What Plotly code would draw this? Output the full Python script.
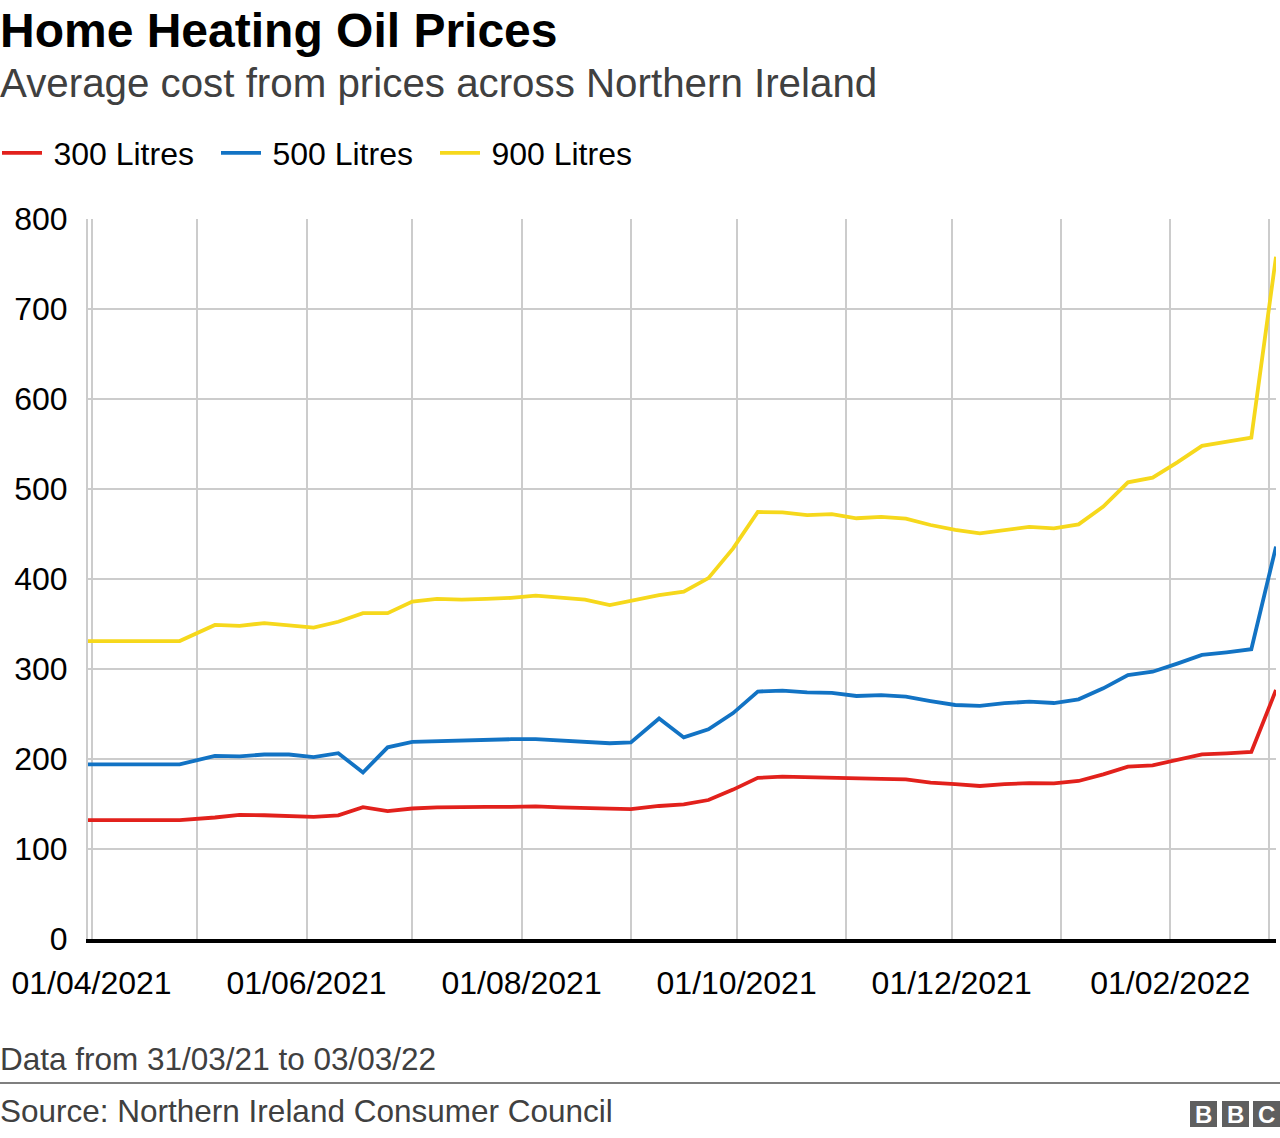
import plotly.graph_objects as go

# ---- data ----
dates = [
    "2021-03-31", "2021-04-26", "2021-05-06", "2021-05-13", "2021-05-20", "2021-05-27",
    "2021-06-03", "2021-06-10", "2021-06-17", "2021-06-24", "2021-07-01", "2021-07-08",
    "2021-07-15", "2021-07-22", "2021-07-29", "2021-08-05", "2021-08-12", "2021-08-19",
    "2021-08-26", "2021-09-01", "2021-09-09", "2021-09-16", "2021-09-23", "2021-09-30",
    "2021-10-07", "2021-10-14", "2021-10-21", "2021-10-28", "2021-11-04", "2021-11-11",
    "2021-11-18", "2021-11-25", "2021-12-02", "2021-12-09", "2021-12-16", "2021-12-23",
    "2021-12-30", "2022-01-06", "2022-01-13", "2022-01-20", "2022-01-27", "2022-02-03",
    "2022-02-10", "2022-02-17", "2022-02-24", "2022-03-03",
]
litres_300 = [
    132, 132, 135, 137.8, 137.5, 137, 135.6, 137.4, 146.5, 142, 145, 146.3,
    146, 146.7, 146.7, 147.4, 146.3, 145.2, 144.8, 144.3, 147.8, 149.6, 154.4, 166,
    179, 180.4, 179.6, 179, 177.8, 178, 177.4, 173.7, 172, 170, 172, 173.3,
    173, 175.6, 183, 191.5, 193, 199, 205.2, 206.3, 207.8, 276.7,
]
litres_500 = [
    194, 194, 203.5, 203, 205, 205, 202, 206.5, 185, 213, 219, 220,
    220, 221, 222, 222, 220.5, 219.3, 217.5, 218.5, 245, 224, 233, 251,
    275, 276, 274, 273.5, 270, 271, 269.3, 264.4, 260, 259, 262, 263.7,
    262.2, 266.3, 278.5, 293.3, 297, 306, 315.6, 318.5, 322, 436,
]
litres_900 = [
    331, 331, 349, 348, 351, 349, 346, 352.5, 362, 362, 375, 378,
    377, 378, 379, 381.5, 379.5, 377, 371, 375.5, 382, 386, 401, 434,
    474.5, 474, 471, 472, 467.5, 469, 467, 460, 454.5, 450.7, 454.5, 458,
    456.3, 460.7, 480.4, 507.4, 512.6, 529.6, 548, 552.6, 557, 758,
]
series_names = ["300 Litres", "500 Litres", "900 Litres"]
series_values = [litres_300, litres_500, litres_900]
series_colors = ["#e2211c", "#1273c4", "#f6d81c"]

y_ticks = [0, 100, 200, 300, 400, 500, 600, 700, 800]
x_tick_dates = [
    "2021-04-01", "2021-05-01", "2021-06-01", "2021-07-01", "2021-08-01", "2021-09-01",
    "2021-10-01", "2021-11-01", "2021-12-01", "2022-01-01", "2022-02-01", "2022-03-01",
]
x_tick_labels = [
    "01/04/2021", "", "01/06/2021", "", "01/08/2021", "",
    "01/10/2021", "", "01/12/2021", "", "01/02/2022", "",
]

title_text = "Home Heating Oil Prices"
subtitle_text = "Average cost from prices across Northern Ireland"
note_text = "Data from 31/03/21 to 03/03/22"
source_text = "Source: Northern Ireland Consumer Council"

# ---- layout geometry (pixels) ----
W, H = 1280, 1138
L, R, T, B = 88, 4, 219, 199
PW, PH = W - L - R, H - T - B


def px(xpix):
    return (xpix - L) / PW


def py(ypix):
    return (H - B - ypix) / PH


FONT = "Liberation Sans, Arial, sans-serif"
XS = -2  # annotation horizontal correction

fig = go.Figure()
for name, vals, col in zip(series_names, series_values, series_colors):
    fig.add_trace(go.Scatter(
        x=dates, y=vals, name="\u2009" + name, mode="lines",
        line=dict(color=col, width=3.8),
        hoverinfo="skip",
    ))

annotations = [
    dict(text="<b>%s</b>" % title_text, x=px(0), y=py(30), xref="paper", yref="paper",
         xanchor="left", yanchor="middle", showarrow=False, xshift=XS,
         font=dict(family=FONT, size=48, color="#000000")),
    dict(text=subtitle_text, x=px(0), y=py(83), xref="paper", yref="paper",
         xanchor="left", yanchor="middle", showarrow=False, xshift=XS,
         font=dict(family=FONT, size=40.3, color="#404040")),
    dict(text=note_text, x=px(0), y=py(1059), xref="paper", yref="paper",
         xanchor="left", yanchor="middle", showarrow=False, xshift=XS,
         font=dict(family=FONT, size=31.5, color="#404040")),
    dict(text=source_text, x=px(0), y=py(1111), xref="paper", yref="paper",
         xanchor="left", yanchor="middle", showarrow=False, xshift=XS,
         font=dict(family=FONT, size=31.5, color="#404040")),
]

shapes = [
    dict(type="line", xref="paper", yref="paper", x0=px(0), x1=px(1280),
         y0=py(1083), y1=py(1083), line=dict(color="#7f7f7f", width=2)),
]

# BBC logo blocks
logo_boxes = [(1190, 1217, "B"), (1222, 1249, "B"), (1253, 1280, "C")]
for x0, x1, letter in logo_boxes:
    shapes.append(dict(type="rect", xref="paper", yref="paper",
                       x0=px(x0), x1=px(x1), y0=py(1127), y1=py(1101),
                       fillcolor="#5f5f5f", line=dict(width=0)))
    annotations.append(dict(text="<b>%s</b>" % letter, x=px((x0 + x1) / 2), y=py(1114),
                            xref="paper", yref="paper", xanchor="center", yanchor="middle",
                            showarrow=False,
                            font=dict(family=FONT, size=24, color="#ffffff")))

fig.update_layout(
    width=W, height=H,
    margin=dict(l=L, r=R, t=T, b=B, pad=0, autoexpand=False),
    paper_bgcolor="#ffffff", plot_bgcolor="#ffffff",
    font=dict(family=FONT, size=32, color="#000000"),
    showlegend=True,
    legend=dict(orientation="h", x=px(-3), y=py(153), xanchor="left", yanchor="middle",
                font=dict(family=FONT, size=32, color="#000000"),
                itemwidth=40, entrywidth=164, entrywidthmode="pixels",
                bgcolor="rgba(0,0,0,0)", traceorder="normal"),
    annotations=annotations,
    shapes=shapes,
    xaxis=dict(
        type="date", range=["2021-03-31", "2022-03-03"],
        tickmode="array", tickvals=x_tick_dates, ticktext=x_tick_labels,
        showgrid=True, gridcolor="#cccccc", gridwidth=2,
        showline=True, linecolor="#000000", linewidth=4,
        ticks="", ticklabelstandoff=13,
        tickfont=dict(family=FONT, size=32, color="#000000"),
        zeroline=False, fixedrange=True, automargin=False,
    ),
    yaxis=dict(
        range=[0, 800], tickmode="array", tickvals=y_ticks,
        showgrid=True, gridcolor="#cccccc", gridwidth=2,
        showline=True, linecolor="#cccccc", linewidth=2,
        ticks="", ticklabelstandoff=12,
        tickfont=dict(family=FONT, size=32, color="#000000"),
        zeroline=False, fixedrange=True, automargin=False,
    ),
)

fig.write_html("out.html", post_script="document.body.style.margin='0';",
               config={"displayModeBar": False})
